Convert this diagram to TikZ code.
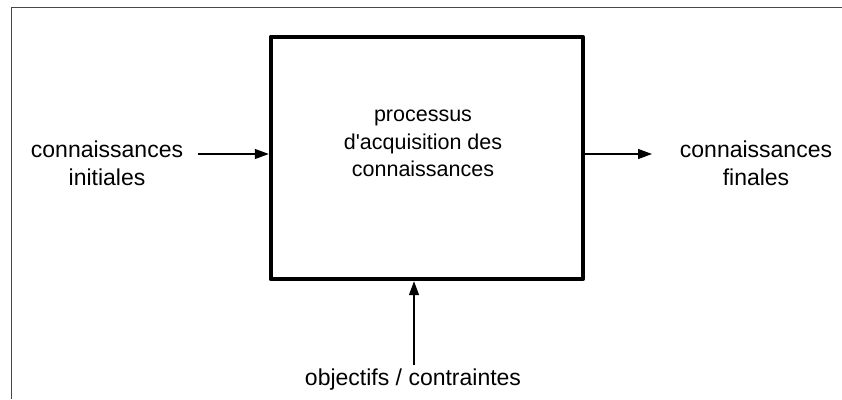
\documentclass[tikz,border=0pt]{standalone}
\usepackage{fontspec}
\setmainfont{Liberation Sans}
\usetikzlibrary{arrows.meta}

\begin{document}
\begin{tikzpicture}[x=1pt,y=1pt,
    frameline/.style={draw=black!72, line width=1.3pt},
    procbox/.style={draw=black, line width=3.8pt, line join=round,
      minimum width=312pt, minimum height=242.6pt, inner sep=0pt},
    sidelabel/.style={align=center, inner sep=0pt,
      font=\fontsize{23}{28}\selectfont},
    boxlabel/.style={align=center, inner sep=0pt,
      font=\fontsize{21.5}{27.5}\selectfont},
    flow/.style={draw=black, line width=1.2pt,
      -{Triangle[length=14pt,width=10pt]}}]
  \useasboundingbox (0,0) rectangle (842,399);

  % outer frame (top and left edges only)
  \draw[frameline] (11.7,0) -- (11.7,391.5) -- (842,391.5);

  % the process block
  \node[procbox] (proc) at (426.7,241) {};
  \node[boxlabel, anchor=base] (proctext) at (423,222)
    {processus\\d\textquotesingle acquisition des\\connaissances};

  % inputs and outputs
  \node[sidelabel, anchor=base] (ini) at (107,213)
    {connaissances\\initiales};
  \node[sidelabel, anchor=base] (fin) at (756,213)
    {connaissances\\finales};
  \node[sidelabel, anchor=base] (obj) at (413,14) {objectifs / contraintes};

  \coordinate (inTail) at (198,245);
  \coordinate (outTip) at (652,245);
  \coordinate (objTail) at (414,34);

  \draw[flow] (inTail) -- (proc.west |- inTail);
  \draw[flow] (proc.east |- outTip) -- (outTip);
  \draw[flow] (objTail) -- (proc.south -| objTail);
\end{tikzpicture}
\end{document}
